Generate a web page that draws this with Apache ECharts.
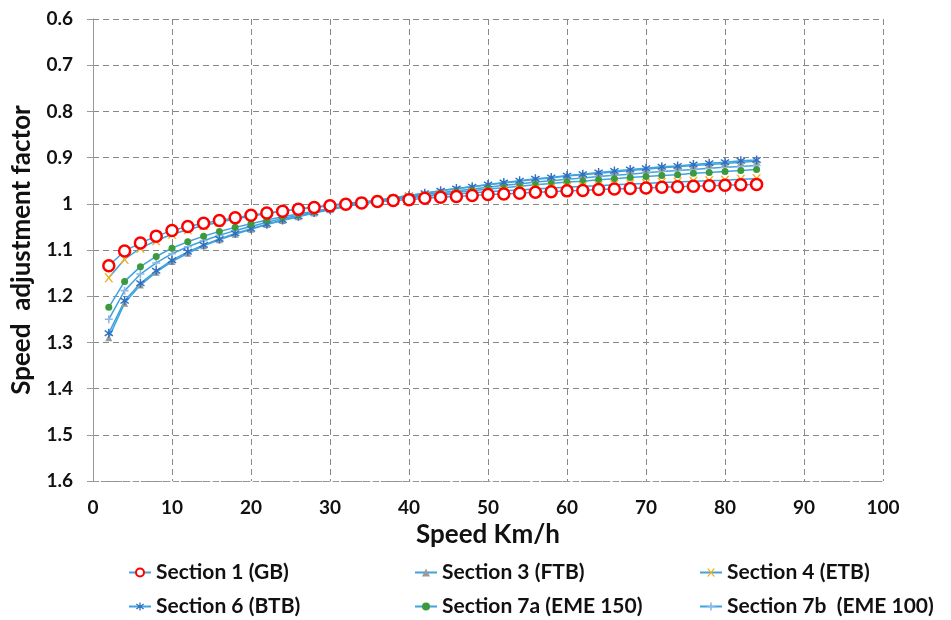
<!DOCTYPE html>
<html><head><meta charset="utf-8">
<script src="https://cdn.jsdelivr.net/npm/echarts@6/dist/echarts.min.js"></script>
<style>html,body{margin:0;padding:0;background:#fff}#c{width:951px;height:620px}</style>
</head><body><div id="c"></div>
<script>
var speeds = [2,4,6,8,10,12,14,16,18,20,22,24,26,28,30,32,34,36,38,40,42,44,46,48,50,52,54,56,58,60,62,64,66,68,70,72,74,76,78,80,82,84];
var sec1 = [1.134,1.102,1.085,1.07,1.058,1.049,1.042,1.036,1.03,1.025,1.02,1.016,1.012,1.008,1.004,1.001,0.998,0.995,0.993,0.991,0.988,0.986,0.984,0.982,0.98,0.979,0.977,0.975,0.974,0.972,0.971,0.969,0.968,0.967,0.966,0.964,0.963,0.962,0.961,0.96,0.959,0.958];
var sec3 = [1.29,1.215,1.176,1.148,1.125,1.107,1.091,1.078,1.066,1.055,1.045,1.036,1.028,1.02,1.013,1.006,0.999,0.993,0.987,0.982,0.977,0.972,0.967,0.963,0.959,0.955,0.951,0.947,0.944,0.94,0.937,0.934,0.931,0.928,0.925,0.922,0.92,0.917,0.915,0.913,0.91,0.908];
var sec4 = [1.16,1.12,1.096,1.08,1.066,1.056,1.047,1.04,1.033,1.027,1.021,1.016,1.011,1.007,1.003,0.999,0.996,0.992,0.989,0.986,0.984,0.981,0.979,0.976,0.974,0.972,0.97,0.968,0.966,0.964,0.962,0.961,0.959,0.957,0.956,0.954,0.953,0.951,0.95,0.949,0.947,0.946];
var sec6 = [1.28,1.21,1.172,1.145,1.122,1.104,1.089,1.076,1.064,1.054,1.044,1.035,1.027,1.019,1.012,1.005,0.999,0.993,0.988,0.982,0.977,0.972,0.967,0.963,0.958,0.954,0.95,0.946,0.943,0.939,0.936,0.932,0.929,0.926,0.923,0.92,0.918,0.915,0.912,0.91,0.907,0.905];
var sec7a = [1.224,1.168,1.136,1.114,1.096,1.082,1.07,1.06,1.051,1.043,1.035,1.028,1.022,1.016,1.01,1.005,1.0,0.995,0.991,0.987,0.983,0.979,0.975,0.972,0.968,0.965,0.962,0.959,0.956,0.953,0.951,0.948,0.946,0.943,0.941,0.939,0.937,0.934,0.932,0.93,0.928,0.926];
var sec7b = [1.25,1.188,1.152,1.128,1.108,1.093,1.08,1.068,1.058,1.049,1.04,1.032,1.025,1.018,1.012,1.006,1.0,0.995,0.99,0.985,0.98,0.976,0.972,0.968,0.964,0.96,0.957,0.953,0.95,0.947,0.944,0.941,0.938,0.936,0.933,0.93,0.928,0.926,0.923,0.921,0.919,0.917];
var names = ['Section 1 (GB)','Section 3 (FTB)','Section 4 (ETB)','Section 6 (BTB)','Section 7a (EME 150)','Section 7b  (EME 100)'];

function pairs(arr){ return speeds.map(function(s,i){ return [s, arr[i]]; }); }
var LINE = '#3fa3dd';
var FONT = 'Lato';
var xPath = 'path://M0,0 L2,0 L5,3 L8,0 L10,0 L6,4 L10,8 L8,8 L5,5 L2,8 L0,8 L4,4 Z';
var plusPath = 'path://M4,0 L6,0 L6,4 L10,4 L10,6 L6,6 L6,10 L4,10 L4,6 L0,6 L0,4 L4,4 Z';
var starPath = 'path://M4.3,0 L5.7,0 L5.7,3.6 L8.6,1.4 L9.4,2.6 L6.4,5 L9.4,7.4 L8.6,8.6 L5.7,6.4 L5.7,10 L4.3,10 L4.3,6.4 L1.4,8.6 L0.6,7.4 L3.6,5 L0.6,2.6 L1.4,1.4 L4.3,3.6 Z';

function mk(name, arr, symbol, size, itemStyle){
  return {
    name: name, type: 'line', data: pairs(arr), symbol: symbol, symbolSize: size,
    lineStyle: {color: LINE, width: 1.5}, itemStyle: itemStyle,
    animation: false, showAllSymbol: true
  };
}
var series = [
  mk(names[5], sec7b, plusPath, 8, {color: '#8fb8e8'}),
  mk(names[1], sec3, 'triangle', 7, {color: '#9a9a9a'}),
  mk(names[3], sec6, starPath, 9, {color: '#2e6fbf'}),
  mk(names[4], sec7a, 'circle', 7, {color: '#3c9a3c'}),
  mk(names[2], sec4, xPath, 9, {color: '#f2b01e'}),
  mk(names[0], sec1, 'circle', 11, {color: '#ffffff', borderColor: '#ff0000', borderWidth: 2.5})
];
var legText = {fontFamily: FONT, fontWeight: 'bold', fontSize: 21, color: '#111'};
function leg(left, items){
  return {orient: 'vertical', left: left, top: 562, itemGap: 13, itemWidth: 22, itemHeight: 10,
    data: items, textStyle: legText, selectedMode: false, padding: 0};
}
var chart = echarts.init(document.getElementById('c'));
chart.setOption({
  backgroundColor: '#fff',
  animation: false,
  grid: {left: 93, right: 68, top: 19, bottom: 139},
  legend: [leg(128, [names[0], names[3]]), leg(414, [names[1], names[4]]), leg(699, [names[2], names[5]])],
  xAxis: {
    type: 'value', min: 0, max: 100, interval: 10,
    name: 'Speed Km/h', nameLocation: 'middle', nameGap: 40,
    nameTextStyle: {fontFamily: FONT, fontWeight: 'bold', fontSize: 26, color: '#111'},
    axisLine: {show: true, onZero: false, lineStyle: {color: '#999', type: [5,3]}},
    axisTick: {show: false},
    axisLabel: {fontFamily: FONT, fontWeight: 'bold', fontSize: 19, color: '#111', margin: 17},
    splitLine: {show: true, lineStyle: {color: '#888', type: [6,4], width: 1}}
  },
  yAxis: {
    type: 'value', inverse: true, min: 0.6, max: 1.6, interval: 0.1,
    name: 'Speed  adjustment factor', nameLocation: 'middle', nameGap: 58, nameRotate: 90,
    nameTextStyle: {fontFamily: FONT, fontWeight: 'bold', fontSize: 26, color: '#111'},
    axisLine: {show: true, lineStyle: {color: '#999'}},
    axisTick: {show: true, length: 6, lineStyle: {color: '#999'}},
    axisLabel: {fontFamily: FONT, fontWeight: 'bold', fontSize: 19, color: '#111', margin: 20,
      formatter: function(v){ return String(Math.round(v*10)/10); }},
    splitLine: {show: true, lineStyle: {color: '#888', type: [6,4], width: 1}}
  },
  series: series
});
</script></body></html>
